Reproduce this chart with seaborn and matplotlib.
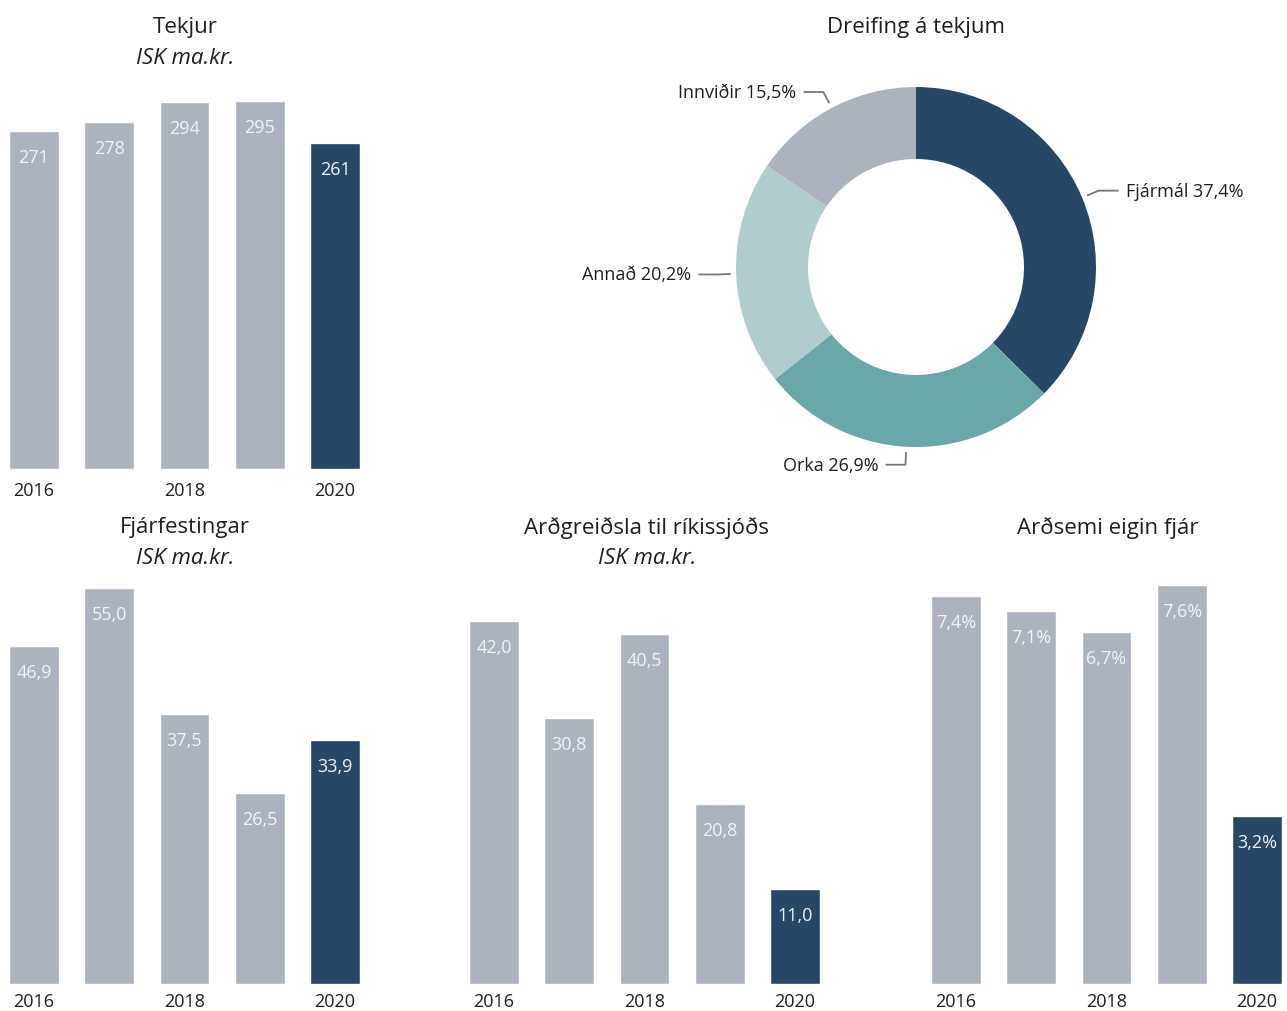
import matplotlib
matplotlib.use("Agg")
import matplotlib.pyplot as plt
import seaborn as sns
import numpy as np
import pandas as pd

# ---------------- data ----------------
years = ["2016", "2017", "2018", "2019", "2020"]
tick_labels = ["2016", "", "2018", "", "2020"]
tekjur = [271, 278, 294, 295, 261]
fjarfestingar = [46.9, 55.0, 37.5, 26.5, 33.9]
ardgreidsla = [42.0, 30.8, 40.5, 20.8, 11.0]
ardsemi = [7.4, 7.1, 6.7, 7.6, 3.2]

donut_labels = ["Fjármál", "Orka", "Annað", "Innviðir"]
donut_values = [37.4, 26.9, 20.2, 15.5]

# ---------------- style ----------------
GRAY = "#adb3be"
NAVY = "#264766"
bar_colors = [GRAY, GRAY, GRAY, GRAY, NAVY]
donut_colors = [NAVY, "#6aa7a8", "#b1cccc", GRAY]
TXT = "#201f1e"
LBL = "#f2f3f5"

sns.set_theme(style="white")
plt.rcParams['font.family'] = ['Open Sans', 'DejaVu Sans']

W, H = 1287, 1012
fig = plt.figure(figsize=(W / 100, H / 100), dpi=100)


def px_axes(left, top, right, bottom):
    return fig.add_axes([left / W, 1 - bottom / H, (right - left) / W, (bottom - top) / H])


def fig_text(x, y, s, **kw):
    fig.text(x / W, 1 - y / H, s, ha="center", va="center", color=TXT, **kw)


def comma(v, d=1):
    return f"{v:.{d}f}".replace(".", ",")


def bar_panel(rect, values, ymax, fmt, pad=9):
    ax = px_axes(*rect)
    df = pd.DataFrame({"year": years, "value": values})
    sns.barplot(data=df, x="year", y="value", hue="year", palette=bar_colors,
                legend=False, width=0.66, saturation=1, ax=ax)
    ax.set_xlim(-0.45, 4.45)
    ax.set_ylim(0, ymax)
    ax.set_xlabel("")
    ax.set_ylabel("")
    ax.set_yticks([])
    ax.set_xticks(range(len(years)))
    ax.set_xticklabels(tick_labels)
    ax.tick_params(axis="x", length=0, pad=pad, labelsize=13, labelcolor=TXT)
    sns.despine(ax=ax, left=True, bottom=True)
    for container in ax.containers:
        for bar in container:
            h = bar.get_height()
            if np.isnan(h):
                continue
            ax.annotate(fmt(h), (bar.get_x() + bar.get_width() / 2, h),
                        xytext=(0, -26), textcoords="offset pixels",
                        ha="center", va="center", fontsize=13, color=LBL)
    return ax


TS = 16

# ---------------- bar panels ----------------
bar_panel((0, 80, 369, 470), tekjur, 312.7, lambda v: f"{v:.0f}", pad=9)
fig_text(185, 28, "Tekjur", fontsize=TS)
fig_text(185, 58, "ISK ma.kr.", fontsize=TS, style="italic")

bar_panel((0, 575, 369, 985), fjarfestingar, 56.9, lambda v: comma(v), pad=5.5)
fig_text(185, 528, "Fjárfestingar", fontsize=TS)
fig_text(185, 559, "ISK ma.kr.", fontsize=TS, style="italic")

bar_panel((460, 575, 829, 985), ardgreidsla, 47.45, lambda v: comma(v), pad=5.5)
fig_text(647, 528, "Arðgreiðsla til ríkissjóðs", fontsize=TS)
fig_text(647, 559, "ISK ma.kr.", fontsize=TS, style="italic")

bar_panel((922, 575, 1291, 985), ardsemi, 7.81, lambda v: comma(v) + "%", pad=5.5)
fig_text(1108, 528, "Arðsemi eigin fjár", fontsize=TS)

# ---------------- donut ----------------
R = 180.0
dax = px_axes(666, 18, 1166, 518)
dax.pie(donut_values, colors=donut_colors, startangle=90, counterclock=False,
        radius=1, wedgeprops=dict(width=0.4, edgecolor="none"))
lim = 250 / R
dax.set_xlim(-lim, lim)
dax.set_ylim(-lim, lim)
dax.set_aspect("equal")
dax.axis("off")

total = sum(donut_values)
cum = np.concatenate([[0], np.cumsum(donut_values)])
for i, (lab, v) in enumerate(zip(donut_labels, donut_values)):
    mid = (cum[i] + cum[i + 1]) / 2 / total * 360
    th = np.deg2rad(90 - mid)
    c, s = np.cos(th), np.sin(th)
    p0 = (1.03 * c, 1.03 * s)
    p1 = (1.1 * c, 1.1 * s)
    side = 1 if c > 0 else -1
    p2 = (p1[0] + side * 0.11, p1[1])
    dax.plot([p0[0], p1[0], p2[0]], [p0[1], p1[1], p2[1]], color="#777777", lw=1.3,
             solid_capstyle="butt")
    dax.text(p2[0] + side * 0.04, p2[1], f"{lab} {comma(v)}%",
             ha="left" if side > 0 else "right", va="center", fontsize=13, color=TXT)

fig_text(916, 28, "Dreifing á tekjum", fontsize=TS)

fig.savefig("out.png", dpi=100)
